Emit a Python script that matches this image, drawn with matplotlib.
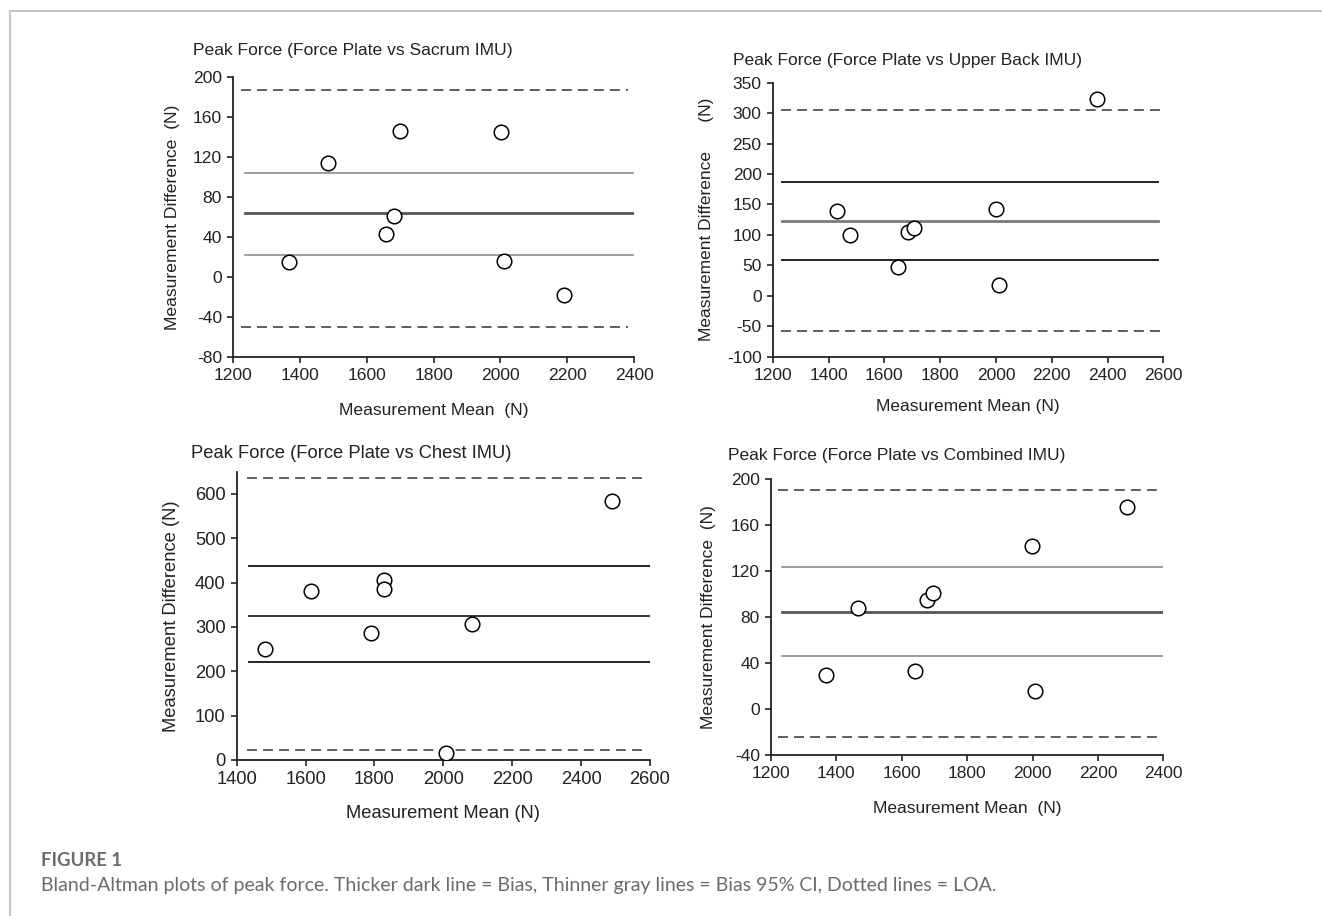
import matplotlib.pyplot as plt

plt.rcParams['font.family'] = ['Liberation Sans', 'DejaVu Sans']
plt.rcParams['axes.unicode_minus'] = False

W, H = 1322, 916

# ---- data ----
# panel 1: sacrum
sacrum_mean = [1368, 1484, 1657, 1682, 1699, 2001, 2010, 2190]
sacrum_diff = [15, 114, 43, 61, 146, 145, 16, -18]
sacrum_lines = [186.7, 104.3, 64, 22.3, -50]   # LOA up, CI up, bias, CI low, LOA low

# panel 2: upper back
upback_mean = [1429, 1476, 1648, 1686, 1707, 2000, 2011, 2362]
upback_diff = [139, 100, 47, 104, 112, 143, 17, 324]
upback_lines = [305, 187, 123, 58, -58]

# panel 3: chest
chest_mean = [1483, 1616, 1791, 1828, 1828, 2009, 2082, 2491]
chest_diff = [251, 382, 287, 405, 386, 15, 307, 584]
chest_lines = [635, 436.5, 325, 220.5, 21.7]

# panel 4: combined
comb_mean = [1369, 1467, 1639, 1677, 1697, 1999, 2008, 2288]
comb_diff = [29.6, 88, 33.3, 94.5, 100.6, 141.7, 16, 175.7]
comb_lines = [190.7, 123.2, 84, 46.4, -24.6]

titles = ["Peak Force (Force Plate vs Sacrum IMU)",
          "Peak Force (Force Plate vs Upper Back IMU)",
          "Peak Force (Force Plate vs Chest IMU)",
          "Peak Force (Force Plate vs Combined IMU)"]
ylabels = ["Measurement Difference  (N)",
           "Measurement Difference      (N)",
           "Measurement Difference (N)",
           "Measurement Difference  (N)"]
xlabels = ["Measurement Mean  (N)", "Measurement Mean (N)",
           "Measurement Mean (N)", "Measurement Mean  (N)"]

xlims = [(1200, 2400), (1200, 2600), (1400, 2600), (1200, 2400)]
ylims = [(-80, 200), (-100, 350), (0, 650), (-40, 200)]
yticks = [range(-80, 201, 40), range(-100, 351, 50), range(0, 601, 100), range(-40, 201, 40)]
xticks = [range(1200, 2401, 200), range(1200, 2601, 200), range(1400, 2601, 200), range(1200, 2401, 200)]
# x extent of solid and dashed reference lines
solid_span = [(1235, 2397), (1232, 2582), (1437, 2600), (1233, 2398)]
dash_span = [(1225, 2382), (1229, 2588), (1431, 2590), (1222, 2385)]

# pixel boxes (left, top, right, bottom)
boxes = [(233, 77, 634, 357), (772.7, 82.7, 1163.3, 356.7),
         (236.7, 471.7, 650, 760), (771, 479, 1163.3, 755)]
title_pos = [(193, 51), (733, 60), (191, 454), (728, 455)]
ylab_x = [172, 707, 172, 709]
xlab_y = [410, 407, 814, 808]

# styles: (CI colour, CI width, bias colour, bias width)
styles = [("#8c8c8c", 1.2, "#555555", 2.0),
          ("#222222", 1.4, "#7a7a7a", 2.0),
          ("#222222", 1.4, "#333333", 1.4),
          ("#8c8c8c", 1.2, "#555555", 2.0)]
fsizes = [12.6, 12.5, 13.2, 12.5]

means = [sacrum_mean, upback_mean, chest_mean, comb_mean]
diffs = [sacrum_diff, upback_diff, chest_diff, comb_diff]
lines = [sacrum_lines, upback_lines, chest_lines, comb_lines]

fig = plt.figure(figsize=(W / 100, H / 100), dpi=100)

# light frame around the figure
fig.add_artist(plt.Line2D([10 / W, 1], [1 - 11 / H, 1 - 11 / H], color="#c6c6c6", lw=1.5))
fig.add_artist(plt.Line2D([10 / W, 10 / W], [0, 1 - 11 / H], color="#c6c6c6", lw=1.5))

tc = "#222222"
for i in range(4):
    l, t, r, b = boxes[i]
    ax = fig.add_axes([l / W, 1 - b / H, (r - l) / W, (b - t) / H])
    fs = fsizes[i]
    ci_c, ci_w, bias_c, bias_w = styles[i]
    up, ciu, bias, cil, low = lines[i]
    s0, s1 = solid_span[i]
    d0, d1 = dash_span[i]
    ax.plot([d0, d1], [up, up], color="#333333", lw=1.1, dashes=(6.5, 4))
    ax.plot([d0, d1], [low, low], color="#333333", lw=1.1, dashes=(6.5, 4))
    ax.plot([s0, s1], [ciu, ciu], color=ci_c, lw=ci_w)
    ax.plot([s0, s1], [cil, cil], color=ci_c, lw=ci_w)
    ax.plot([s0, s1], [bias, bias], color=bias_c, lw=bias_w)
    ax.scatter(means[i], diffs[i], s=110, facecolor="white", edgecolor="black",
               linewidth=1.1, zorder=3)
    ax.set_xlim(xlims[i])
    ax.set_ylim(ylims[i])
    ax.set_xticks(list(xticks[i]))
    ax.set_yticks(list(yticks[i]))
    for side in ["top", "right"]:
        ax.spines[side].set_visible(False)
    for side in ["left", "bottom"]:
        ax.spines[side].set_linewidth(1.3)
        ax.spines[side].set_color("#222222")
    ax.tick_params(direction="out", length=4, width=1.2, labelsize=fs,
                   colors=tc, pad=4)
    ax.patch.set_alpha(0)
    tx, ty = title_pos[i]
    fig.text(tx / W, 1 - ty / H, titles[i], fontsize=fs, color=tc,
             ha="left", va="center")
    fig.text(ylab_x[i] / W, 1 - ((t + b) / 2) / H, ylabels[i], fontsize=fs,
             color=tc, rotation=90, ha="center", va="center")
    fig.text(((l + r) / 2) / W, 1 - xlab_y[i] / H, xlabels[i], fontsize=fs,
             color=tc, ha="center", va="center")

fig.text(41 / W, 1 - 860 / H, "FIGURE 1", fontsize=13.3, fontweight="bold",
         color="#6b6b6b", family=["Lato", "DejaVu Sans"], ha="left", va="center")
fig.text(41 / W, 1 - 885 / H,
         "Bland-Altman plots of peak force. Thicker dark line = Bias, Thinner gray lines = Bias 95% CI, Dotted lines = LOA.",
         fontsize=14, color="#6b6b6b", family=["Lato", "DejaVu Sans"],
         ha="left", va="center")

fig.savefig("out.png", dpi=100)
